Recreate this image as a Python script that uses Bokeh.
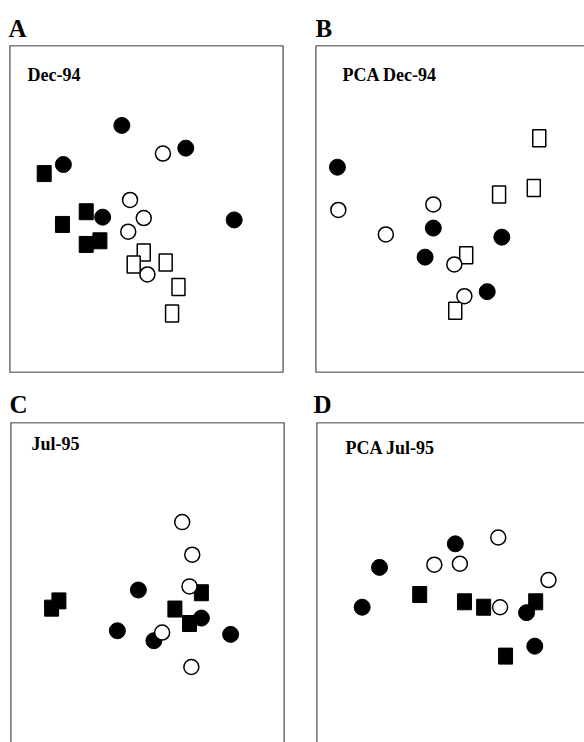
from bokeh.plotting import figure
from bokeh.layouts import column, row
from bokeh.models import Range1d, Label, Span
from bokeh.embed import file_html
from bokeh.resources import INLINE

# ---------------- data (ordination scores) ----------------
# Panel A: Dec-94
A_filled_circle_x = [-0.27, 0.43, -0.91, -0.48, 0.96]
A_filled_circle_y = [0.92, 0.67, 0.49, -0.09, -0.12]
A_open_circle_x = [0.18, -0.18, -0.03, -0.20, 0.01]
A_open_circle_y = [0.61, 0.10, -0.10, -0.25, -0.72]
A_filled_square_x = [-1.12, -0.92, -0.66, -0.66, -0.51]
A_filled_square_y = [0.39, -0.17, -0.03, -0.39, -0.35]
A_open_square_x = [-0.03, -0.14, 0.21, 0.35, 0.28]
A_open_square_y = [-0.48, -0.61, -0.59, -0.86, -1.15]

# Panel B: PCA Dec-94
B_filled_circle_x = [-1.26, -0.21, -0.30, 0.54, 0.38]
B_filled_circle_y = [0.46, -0.21, -0.53, -0.31, -0.91]
B_open_circle_x = [-1.25, -0.21, -0.73, 0.02, 0.13]
B_open_circle_y = [-0.01, 0.05, -0.28, -0.61, -0.96]
B_filled_square_x = []
B_filled_square_y = []
B_open_square_x = [0.95, 0.89, 0.51, 0.15, 0.03]
B_open_square_y = [0.78, 0.23, 0.16, -0.51, -1.12]

# Panel C: Jul-95
C_filled_circle_x = [-0.10, -0.33, 0.07, 0.59, 0.91]
C_filled_circle_y = [-0.05, -0.50, -0.61, -0.36, -0.54]
C_open_circle_x = [0.38, 0.49, 0.46, 0.16, 0.48]
C_open_circle_y = [0.70, 0.34, -0.01, -0.52, -0.90]
C_filled_square_x = [-0.97, -1.05, 0.59, 0.30, 0.46]
C_filled_square_y = [-0.17, -0.25, -0.08, -0.26, -0.42]
C_open_square_x = []
C_open_square_y = []

# Panel D: PCA Jul-95
D_filled_circle_x = [-0.81, -1.00, 0.02, 0.80, 0.89]
D_filled_circle_y = [0.20, -0.24, 0.46, -0.30, -0.67]
D_open_circle_x = [-0.21, 0.07, 0.49, 1.04, 0.51]
D_open_circle_y = [0.23, 0.24, 0.53, 0.06, -0.24]
D_filled_square_x = [-0.37, 0.12, 0.33, 0.90, 0.57]
D_filled_square_y = [-0.10, -0.18, -0.24, -0.18, -0.78]
D_open_square_x = []
D_open_square_y = []

panel_letters = ["A", "B", "C", "D"]
panel_titles = ["Dec-94", "PCA Dec-94", "Jul-95", "PCA Jul-95"]

SERIF = "Liberation Serif"


def make_panel(w, h, bl, br, bt, bb, xr, yr, letter, title, title_dx, title_dy,
               letter_dx, letter_standoff, fcx, fcy, ocx, ocy, fsx, fsy, osx, osy, sides):
    p = figure(width=w, height=h, output_backend="svg", toolbar_location=None,
               x_range=Range1d(*xr), y_range=Range1d(*yr),
               x_axis_location=None, y_axis_location=None,
               min_border_left=bl, min_border_right=br,
               min_border_top=bt, min_border_bottom=bb,
               background_fill_color="white", border_fill_color="white",
               title=letter)
    p.title.text_font = SERIF
    p.title.text_font_style = "bold"
    p.title.text_font_size = "25px"
    p.title.text_color = "black"
    p.title.align = "left"
    p.title.offset = letter_dx
    p.title.standoff = letter_standoff
    p.grid.visible = False
    p.outline_line_color = None
    fh = h - bt - bb
    for side in sides:
        if side == "top":
            p.add_layout(Span(location=yr[1], dimension="width", line_color="black", line_width=1.7))
        elif side == "bottom":
            p.add_layout(Span(location=yr[0], dimension="width", line_color="black", line_width=1.7))
        elif side == "left":
            p.add_layout(Span(location=xr[0], dimension="height", line_color="black", line_width=1.7))
        elif side == "right":
            p.add_layout(Span(location=xr[1], dimension="height", line_color="black", line_width=1.7))
    if fsx:
        p.rect(fsx, fsy, width=14, height=16, width_units="screen", height_units="screen",
               fill_color="black", line_color="black")
    if fcx:
        p.scatter(fcx, fcy, marker="circle", size=16, fill_color="black", line_color="black")
    if osx:
        p.rect(osx, osy, width=13, height=17, width_units="screen", height_units="screen",
               fill_color="white", line_color="black", line_width=1.5)
    if ocx:
        p.scatter(ocx, ocy, marker="circle", size=15, fill_color="white", line_color="black",
                  line_width=1.5)
    p.add_layout(Label(x=title_dx, y=fh - title_dy, x_units="screen", y_units="screen",
                       text=title, text_font=SERIF, text_font_style="bold",
                       text_font_size="18px", text_color="black", text_baseline="alphabetic"))
    return p


SX = 3.0 / 274.0   # score units per pixel (x)
SY = 3.6 / 327.0   # score units per pixel (y)

pA = make_panel(308, 384, 9, 25, 45, 12, (-1.5, 1.5), (-1.8, 1.8),
                panel_letters[0], panel_titles[0], 18, 29, -1, 7,
                A_filled_circle_x, A_filled_circle_y, A_open_circle_x, A_open_circle_y,
                A_filled_square_x, A_filled_square_y, A_open_square_x, A_open_square_y,
                ["top", "bottom", "left", "right"])
pB = make_panel(276, 384, 7, 0, 45, 12, (-1.5, -1.5 + 269 * SX), (-1.8, 1.8),
                panel_letters[1], panel_titles[1], 27, 29, 0, 7,
                B_filled_circle_x, B_filled_circle_y, B_open_circle_x, B_open_circle_y,
                B_filled_square_x, B_filled_square_y, B_open_square_x, B_open_square_y,
                ["top", "bottom", "left"])
pC = make_panel(308, 358, 10, 24, 37, 0, (-1.5, 1.5), (1.8 - 321 * SY, 1.8),
                panel_letters[2], panel_titles[2], 21, 22, -1, 9,
                C_filled_circle_x, C_filled_circle_y, C_open_circle_x, C_open_circle_y,
                C_filled_square_x, C_filled_square_y, C_open_square_x, C_open_square_y,
                ["top", "left", "right"])
pD = make_panel(276, 358, 8, 0, 37, 0, (-1.5, -1.5 + 268 * SX), (1.8 - 321 * SY, 1.8),
                panel_letters[3], panel_titles[3], 29, 26, -3, 9,
                D_filled_circle_x, D_filled_circle_y, D_open_circle_x, D_open_circle_y,
                D_filled_square_x, D_filled_square_y, D_open_square_x, D_open_square_y,
                ["top", "left"])

layout = column(row(pA, pB, spacing=0), row(pC, pD, spacing=0), spacing=0)

open("out.html", "w").write(file_html(layout, INLINE))
